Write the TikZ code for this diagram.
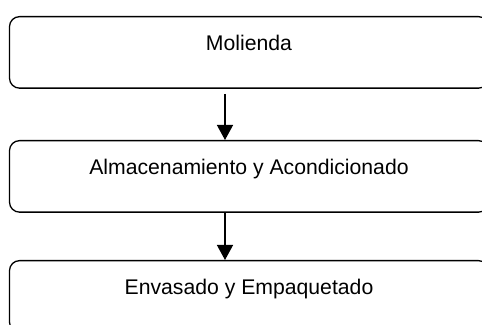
\documentclass[tikz,border=0pt]{standalone}
\usepackage{fontspec}
\setmainfont{Liberation Sans}
\usetikzlibrary{arrows.meta}
\begin{document}
\begin{tikzpicture}[x=1pt,y=1pt,
 paso/.style={draw,rounded corners=5pt,line width=0.65pt,anchor=north,inner sep=0pt,
  minimum width=239.5pt,text height=17pt,text depth=18.75pt,font=\fontsize{10.6}{12}\selectfont},
 flecha/.style={line width=0.65pt,-{Triangle[width=8pt,length=7.5pt]}}]
 \useasboundingbox (0,0) rectangle (241,-162.5);

 \node[paso](1) at (124.5,-8){Molienda};
 \node[paso](2) at (124.5,-70){Almacenamiento y Acondicionado};
 \node[paso](3) at (124.5,-130){Envasado y Empaquetado};

 \draw [flecha,shorten <=2.5pt] ([xshift=-12pt]1.south) -- ([xshift=-12pt]2.north);
 \draw [flecha] ([xshift=-12pt]2.south) -- ([xshift=-12pt]3.north);
\end{tikzpicture}
\end{document}
